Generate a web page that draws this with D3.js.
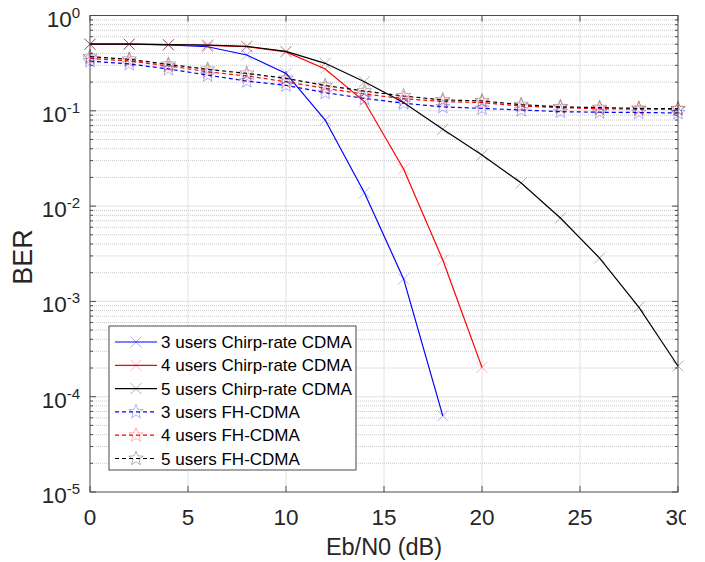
<!DOCTYPE html>
<html><head><meta charset="utf-8">
<script src="https://cdn.jsdelivr.net/npm/d3@7"></script>
<style>body{margin:0;background:#fff}svg{display:block;font-family:"Liberation Sans",Arial,sans-serif}</style>
</head><body><svg id="c" width="705" height="562"></svg>
<script>
const snr = [0,2,4,6,8,10,12,14,16,18,20,22,24,26,28,30];
const chirp3 = [0.5,0.5,0.49,0.47,0.385,0.247,0.080,0.0138,0.00172,0.000063];
const chirp4 = [0.5,0.5,0.495,0.485,0.47,0.415,0.275,0.125,0.0245,0.00272,0.000203];
const chirp5 = [0.5,0.5,0.495,0.49,0.475,0.42,0.315,0.202,0.122,0.064,0.0344,0.0175,0.0075,0.00285,0.00087,0.00021];
const fh3 = [0.333,0.31,0.275,0.237,0.205,0.185,0.155,0.135,0.12,0.11,0.106,0.102,0.098,0.0965,0.096,0.095];
const fh4 = [0.355,0.333,0.296,0.257,0.232,0.202,0.172,0.150,0.134,0.125,0.122,0.112,0.108,0.105,0.104,0.104];
const fh5 = [0.37,0.347,0.307,0.272,0.247,0.219,0.184,0.161,0.143,0.130,0.127,0.116,0.110,0.108,0.106,0.105];
const xTicks = [0,5,10,15,20,25,30];
const yExps = [0,-1,-2,-3,-4,-5];
const seriesNames = ["3 users Chirp-rate CDMA","4 users Chirp-rate CDMA","5 users Chirp-rate CDMA","3 users FH-CDMA","4 users FH-CDMA","5 users FH-CDMA"];

const series = [
  {name:seriesNames[0], vals:chirp3, color:"#0000ff", dash:null, marker:"x"},
  {name:seriesNames[1], vals:chirp4, color:"#ff0000", dash:null, marker:"x"},
  {name:seriesNames[2], vals:chirp5, color:"#000000", dash:null, marker:"x"},
  {name:seriesNames[3], vals:fh3, color:"#0000ff", dash:"4,3", marker:"star"},
  {name:seriesNames[4], vals:fh4, color:"#ff0000", dash:"4,3", marker:"star"},
  {name:seriesNames[5], vals:fh5, color:"#000000", dash:"4,3", marker:"star"}
];

const L=90, R=678, T=15.5, B=492;
const svg = d3.select("#c");
const x = d3.scaleLinear().domain([0,30]).range([L,R]);
const y = d3.scaleLog().domain([1e-5,1]).range([B,T]);

// minor grid
const minors=[];
for(let e=-5;e<0;e++) for(let m=2;m<=9;m++) minors.push(m*Math.pow(10,e));
svg.append("g").selectAll("line").data(minors).join("line")
  .attr("x1",L).attr("x2",R).attr("y1",d=>y(d)).attr("y2",d=>y(d))
  .attr("stroke","#c8c8c8").attr("stroke-width",1).attr("stroke-dasharray","1,1");
// major grid
svg.append("g").selectAll("line").data(yExps.slice(1,5)).join("line")
  .attr("x1",L).attr("x2",R).attr("y1",d=>y(Math.pow(10,d))).attr("y2",d=>y(Math.pow(10,d)))
  .attr("stroke","#e0e0e0").attr("stroke-width",1);
svg.append("g").selectAll("line").data(xTicks.slice(1,6)).join("line")
  .attr("x1",d=>x(d)).attr("x2",d=>x(d)).attr("y1",T).attr("y2",B)
  .attr("stroke","#e0e0e0").attr("stroke-width",1);

// axes box and ticks
const ax = svg.append("g").attr("stroke","#4a4a4a").attr("stroke-width",1);
ax.append("rect").attr("x",L).attr("y",T).attr("width",R-L).attr("height",B-T).attr("fill","none");
xTicks.forEach(t=>{
  ax.append("line").attr("x1",x(t)).attr("x2",x(t)).attr("y1",B).attr("y2",B-6);
  ax.append("line").attr("x1",x(t)).attr("x2",x(t)).attr("y1",T).attr("y2",T+6);
});
yExps.forEach(e=>{
  ax.append("line").attr("x1",L).attr("x2",L+6).attr("y1",y(Math.pow(10,e))).attr("y2",y(Math.pow(10,e)));
  ax.append("line").attr("x1",R).attr("x2",R-6).attr("y1",y(Math.pow(10,e))).attr("y2",y(Math.pow(10,e)));
});
minors.forEach(v=>{
  ax.append("line").attr("x1",L).attr("x2",L+3).attr("y1",y(v)).attr("y2",y(v));
  ax.append("line").attr("x1",R).attr("x2",R-3).attr("y1",y(v)).attr("y2",y(v));
});

// tick labels
svg.append("g").selectAll("text").data(xTicks).join("text")
  .attr("x",d=>x(d)).attr("y",B+33).attr("text-anchor","middle")
  .attr("font-size",22.5).attr("fill","#262626").text(d=>d);
const yl = svg.append("g").selectAll("text").data(yExps).join("text")
  .attr("x",80).attr("y",d=>y(Math.pow(10,d))+11).attr("text-anchor","end")
  .attr("font-size",22.5).attr("fill","#262626");
yl.append("tspan").text("10");
yl.append("tspan").attr("dy",-9).attr("font-size",15).text(d=>d);

// axis labels
svg.append("text").attr("x",(L+R)/2).attr("y",555).attr("text-anchor","middle")
  .attr("font-size",23.5).attr("fill","#262626").text("Eb/N0 (dB)");
svg.append("text").attr("transform","translate(32,257) rotate(-90)").attr("text-anchor","middle")
  .attr("font-size",27).attr("fill","#262626").text("BER");

// markers
function starPath(r1,r2){
  let p="";
  for(let i=0;i<10;i++){
    const r = i%2===0?r1:r2;
    const a = -Math.PI/2 + i*Math.PI/5;
    p += (i===0?"M":"L")+(r*Math.cos(a)).toFixed(2)+","+(r*Math.sin(a)).toFixed(2);
  }
  return p+"Z";
}
function drawMarker(g,type,cx,cy,color){
  if(type==="x"){
    g.append("path").attr("d",`M${cx-5.5},${cy-5.5}L${cx+5.5},${cy+5.5}M${cx-5.5},${cy+5.5}L${cx+5.5},${cy-5.5}`)
      .attr("stroke",color).attr("stroke-opacity",0.3).attr("fill","none").attr("stroke-width",1);
  } else {
    g.append("path").attr("d",starPath(7.5,3.2)).attr("transform",`translate(${cx},${cy})`)
      .attr("stroke",color).attr("stroke-opacity",0.3).attr("fill","none").attr("stroke-width",1);
  }
}

const line = d3.line().x((d,i)=>x(snr[i])).y(d=>y(d));
const plot = svg.append("g");
series.forEach(s=>{
  plot.append("path").datum(s.vals).attr("d",line).attr("fill","none")
    .attr("stroke",s.color).attr("stroke-width",1.2)
    .attr("stroke-dasharray",s.dash);
});
series.forEach(s=>{
  s.vals.forEach((v,i)=>drawMarker(plot,s.marker,x(snr[i]),y(v),s.color));
});

// legend
const lg = svg.append("g");
lg.append("rect").attr("x",109).attr("y",326).attr("width",247).attr("height",144)
  .attr("fill","#fff").attr("stroke","#4a4a4a").attr("stroke-width",1);
series.forEach((s,i)=>{
  const cy = 342 + i*23.3;
  lg.append("line").attr("x1",115).attr("x2",157).attr("y1",cy).attr("y2",cy)
    .attr("stroke",s.color).attr("stroke-width",1.2).attr("stroke-dasharray",s.dash);
  drawMarker(lg,s.marker,136,cy,s.color);
  lg.append("text").attr("x",161).attr("y",cy+6).attr("font-size",17).attr("fill","#000").text(s.name);
});

// right edge crop (reference image is cut at ~686px)
svg.append("rect").attr("x",686).attr("y",0).attr("width",19).attr("height",562).attr("fill","#fff");
</script></body></html>
